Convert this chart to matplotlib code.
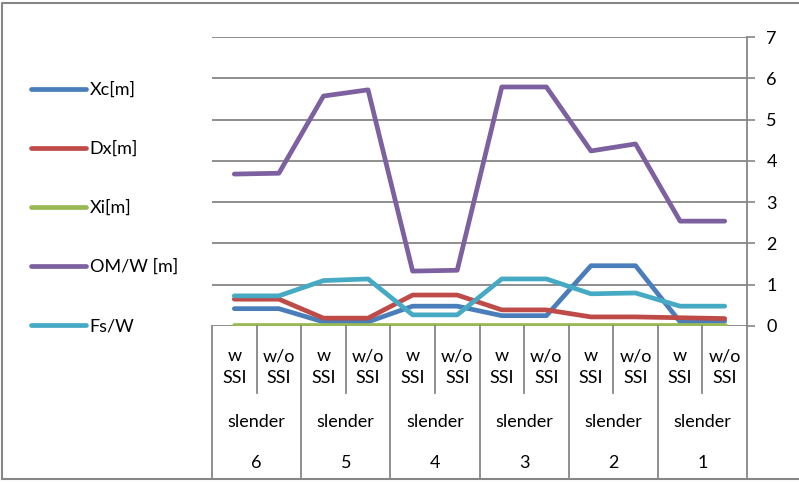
import numpy as np
from matplotlib import pyplot as plt
from matplotlib import transforms

plt.rcParams['font.family'] = ['Lato', 'DejaVu Sans']

# Cases, left to right: building number, slender, with / without SSI
buildings = ['6', '5', '4', '3', '2', '1']
group_label = 'slender'
ssi_labels = ['w\nSSI', 'w/o\nSSI']

xc = [0.42, 0.42, 0.10, 0.10, 0.48, 0.48, 0.25, 0.25, 1.46, 1.46, 0.10, 0.12]
dx = [0.65, 0.65, 0.19, 0.19, 0.75, 0.75, 0.39, 0.39, 0.22, 0.22, 0.20, 0.18]
xi = [0.02] * 12
om_w = [3.68, 3.70, 5.57, 5.72, 1.33, 1.35, 5.79, 5.79, 4.24, 4.41, 2.54, 2.54]
fs_w = [0.73, 0.73, 1.10, 1.14, 0.27, 0.27, 1.14, 1.14, 0.78, 0.80, 0.48, 0.48]

series = [
    ('Xc[m]', xc, '#4a7ebb'),
    ('Dx[m]', dx, '#be4b48'),
    ('Xi[m]', xi, '#98b954'),
    ('OM/W [m]', om_w, '#7d60a0'),
    ('Fs/W', fs_w, '#46aac5'),
]

W, H = 799, 482
grey = '#868686'
fs = 13
fig = plt.figure(figsize=(W / 100, H / 100), dpi=100)

# plot area in pixels: x 212..747, y 37..326 (from top)
ax_l, ax_r, ax_t, ax_b = 212, 747, 37, 326
ax = fig.add_axes([ax_l / W, 1 - ax_b / H, (ax_r - ax_l) / W, (ax_b - ax_t) / H])

x = np.arange(len(xc))
handles = []
for name, vals, col in series:
    h, = ax.plot(x, vals, color=col, lw=3.4, solid_capstyle='round',
                 solid_joinstyle='round', label=name)
    handles.append(h)

ax.set_xlim(-0.5, len(xc) - 0.5)
ax.set_ylim(0, 7)
ax.set_yticks(range(8))
ax.yaxis.tick_right()
ax.tick_params(axis='y', length=6, width=1.2, color=grey, labelsize=fs,
               pad=8, direction='out')
ax.tick_params(axis='x', bottom=False, labelbottom=False)
ax.grid(axis='y', color=grey, lw=1.3)
ax.set_axisbelow(True)
for side in ['top', 'left', 'bottom']:
    ax.spines[side].set_visible(False)
ax.spines['right'].set_color(grey)
ax.spines['right'].set_linewidth(1.3)

# multi-level category axis under the plot
ph = ax_b - ax_t
def fy(py):
    return (ax_b - py) / ph

trans = transforms.blended_transform_factory(ax.transData, ax.transAxes)
for i in range(len(xc) + 1):
    bottom = 477 if i % 2 == 0 else 393
    ax.plot([i - 0.5, i - 0.5], [0, fy(bottom)], color=grey, lw=1.3,
            transform=trans, clip_on=False)
for i in range(len(xc)):
    ax.text(i, fy(367), ssi_labels[i % 2], transform=trans, ha='center',
            va='center', fontsize=fs, linespacing=1.45)
for g, b in enumerate(buildings):
    ax.text(2 * g + 0.5, fy(422), group_label, transform=trans, ha='center',
            va='center', fontsize=fs)
    ax.text(2 * g + 0.5, fy(463), b, transform=trans, ha='center',
            va='center', fontsize=fs)

fig.legend(handles=handles, loc='center left',
           bbox_to_anchor=(31 / W, 1 - 208 / H), frameon=False,
           fontsize=fs, labelspacing=2.37, handlelength=3.05,
           handletextpad=0.2, borderpad=0, borderaxespad=0)

# chart border
fig.add_artist(plt.Line2D([2 / W, 2 / W, 1], [1 - 479 / H, 1 - 3 / H, 1 - 3 / H],
                          transform=fig.transFigure, color=grey, lw=1.5))
fig.add_artist(plt.Line2D([2 / W, 1], [1 - 479 / H, 1 - 479 / H],
                          transform=fig.transFigure, color=grey, lw=1.5))

fig.savefig('out.png', dpi=100)
